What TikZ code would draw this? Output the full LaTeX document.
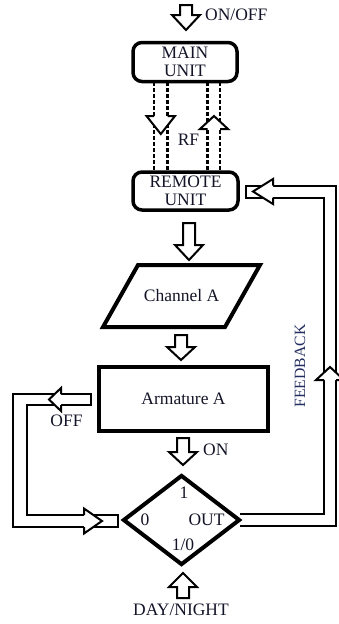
\documentclass[tikz,border=0pt]{standalone}
\usepackage{fontspec}
\setmainfont{Liberation Serif}
\usetikzlibrary{shapes.geometric,calc}
\definecolor{txt}{RGB}{20,20,40}
\definecolor{fbtxt}{RGB}{35,45,95}
% vertical block arrow: #1 tail point, #2 tip point, #3 head length
\newcommand\vblk[3]{%
  \draw[blk] let \p1=#1, \p2=#2, \n1={(\y2>\y1 ? -1 : 1)*#3} in
  (\x2-6pt,\y1) -- (\x2-6pt,{\y2+(\n1)*1pt}) -- (\x2-14pt,{\y2+(\n1)*1pt}) -- (\x2,\y2)
  -- (\x2+14pt,{\y2+(\n1)*1pt}) -- (\x2+6pt,{\y2+(\n1)*1pt}) -- (\x2+6pt,\y1) -- cycle;}
\begin{document}
\begin{tikzpicture}[x=1pt,y=-1pt,
  every node/.style={font=\fontsize{17.5}{18}\selectfont, text=txt},
  unitbox/.style={draw, line width=3.5pt, rounded corners=9pt, minimum width=104pt,
    minimum height=39pt, align=center, inner sep=0pt},
  lbl/.style={text height=11.7pt, text depth=0pt, inner sep=0pt},
  blk/.style={draw, line width=2pt, fill=white, line join=miter},
  rfline/.style={line width=2.4pt, dash pattern=on 3.5pt off 2.5pt}]
\useasboundingbox (0,0) rectangle (338,624);

% main nodes
\node[unitbox] (main) at (185,62) {MAIN\\UNIT};
\node[unitbox, minimum width=105pt, minimum height=38pt] (remote) at (185.5,191) {REMOTE\\UNIT};
\node[lbl] (chan) at (181.5,296) {Channel A};
\draw[line width=4pt, line join=miter] ($(chan)+(-43.5,-31)$) -- ($(chan)+(78.5,-31)$)
  -- ($(chan)+(43.5,31)$) -- ($(chan)+(-78.5,31)$) -- cycle;
\node[draw, line width=4pt, minimum width=169pt, minimum height=64pt, inner sep=0pt] (arm)
  at (183.5,399) {Armature A};

% feedback loop shaft (diamond -> remote)
\coordinate (dc) at (181.5,520);
\draw[blk] ($(dc)+(58.5,-6)$) -- (324,514) -- (324,197.5) -- ($(remote.center)+(60.5,6.5)$)
  -- ($(remote.center)+(60.5,-5.5)$) -- (336,185.5) -- (336,526) -- ($(dc)+(58.5,6)$);
% OFF loop shaft (armature -> diamond)
\draw[blk] ($(arm.center)+(-92.5,-5)$) -- (13,394) -- (13,527) -- ($(dc)+(-63.5,7)$)
  -- ($(dc)+(-63.5,-5)$) -- (27,515) -- (27,405) -- ($(arm.center)+(-92.5,6)$) -- cycle;

\node[draw, shape=diamond, line width=4pt, minimum width=117pt, minimum height=90pt,
  inner sep=0pt, fill=white] (dia) at (dc) {};
\node[lbl] (d1) at (184,493) {1};
\node[lbl] (d0) at (145,520) {0};
\node[lbl] (dout) at (206.5,520) {OUT};
\node[lbl] (d10) at (183,545) {1/0};

% heads on loops
\draw[blk] (273,185.5) -- (273,179) -- (253,191.5) -- (273,204) -- (273,197.5);
\draw[blk] (324,380) -- (316,380) -- (330,367) -- (344,380) -- (336,380);
\draw[blk] (61,394) -- (61,388) -- (49,399.5) -- (61,411) -- (61,405);
\draw[blk] (84,515) -- (84,508.5) -- (102,521) -- (84,533.5) -- (84,527);

% RF links
\draw[rfline] ($(main.center)+(-31,20)$) -- ($(remote.center)+(-31.5,-19)$);
\draw[rfline] ($(main.center)+(-17.5,20)$) -- ($(remote.center)+(-18,-19)$);
\draw[rfline] ($(main.center)+(22.5,20)$) -- ($(remote.center)+(22,-19)$);
\draw[rfline] ($(main.center)+(35,20)$) -- ($(remote.center)+(34.5,-19)$);
\draw[blk] (154,116) -- (146.5,116) -- (160.8,134) -- (175,116) -- (167.5,116);
\draw[blk] (207.5,129) -- (200,129) -- (214,116) -- (228,129) -- (220,129);

% vertical block arrows
\vblk{($(main.center)+(1,-57)$)}{($(main.center)+(1,-32)$)}{15}
\vblk{($(remote.center)+(3.5,32)$)}{($(chan)+(7.5,-36)$)}{15}
\vblk{($(chan)+(-0.5,39)$)}{($(arm.center)+(-2.5,-39)$)}{13}
\vblk{($(arm.center)+(-0.5,39)$)}{($(dc)+(1.5,-55)$)}{13}
\vblk{($(dc)+(1.5,78)$)}{($(dc)+(1.5,53)$)}{14}

% labels
\node[lbl, anchor=west] (onoff) at (205,15) {ON/OFF};
\node[lbl] (rf) at (188.5,140) {RF};
\node[lbl, anchor=west] (on) at (203,450) {ON};
\node[lbl] (off) at (66.5,421) {OFF};
\node[lbl] (dn) at (181,610) {DAY/NIGHT};
\node[lbl, rotate=90, font=\fontsize{15.7}{16}\selectfont, text=fbtxt, text height=10.4pt]
  (fb) at (300,366) {FEEDBACK};
\end{tikzpicture}
\end{document}
